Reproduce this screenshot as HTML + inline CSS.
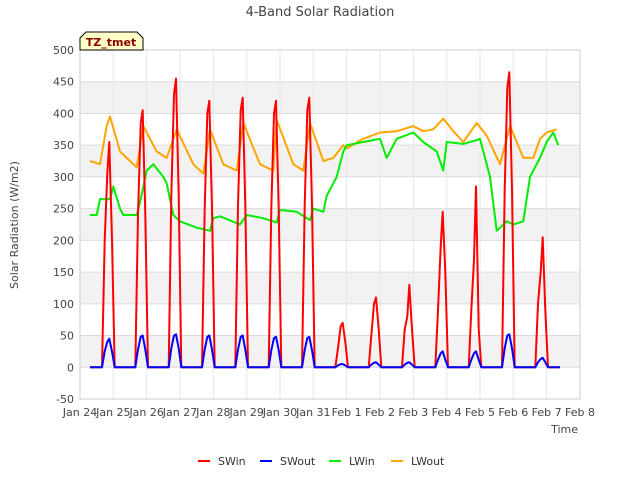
<!DOCTYPE html>
<html><head><meta charset="utf-8"><style>
body{margin:0;background:#fff;font-family:"Liberation Sans","DejaVu Sans",sans-serif;}
svg text{font-family:"DejaVu Sans","Liberation Sans",sans-serif;}
</style></head><body>
<svg id="chart" width="640" height="480" viewBox="0 0 640 480" xmlns="http://www.w3.org/2000/svg">
<text x="320" y="16" font-size="13" text-anchor="middle" fill="#444">4-Band Solar Radiation</text>
<g id="bands"></g>
<g id="grid"></g>
<g id="series"></g>
<g id="axes"></g>
<text transform="translate(18,225) rotate(-90)" font-size="11" text-anchor="middle" fill="#444">Solar Radiation (W/m2)</text>
<text x="578" y="433" font-size="11" text-anchor="end" fill="#444">Time</text>
<g>
<path d="M80,50 L80,38 L86,32 L137,32 L143,38 L143,50 Z" fill="#ffffc8" stroke="#000" stroke-width="1"/>
<text x="111" y="46" font-size="11" font-weight="bold" text-anchor="middle" fill="#8b0000">TZ_tmet</text>
</g>
<g id="legend"></g>
</svg>
<script>
const yTicks=[-50,0,50,100,150,200,250,300,350,400,450,500];
const xLabels=["Jan 24","Jan 25","Jan 26","Jan 27","Jan 28","Jan 29","Jan 30","Jan 31","Feb 1","Feb 2","Feb 3","Feb 4","Feb 5","Feb 6","Feb 7","Feb 8"];
const seriesNames=["SWin","SWout","LWin","LWout"];
const seriesColors=["#ff0000","#0000ff","#00ee00","#ffa500"];
const swTimes=[0.3,
0.66,0.74,0.82,0.88,0.96,1.04,
1.66,1.74,1.82,1.88,1.96,2.04,
2.66,2.74,2.82,2.88,2.96,3.04,
3.66,3.74,3.82,3.88,3.96,4.04,
4.66,4.74,4.82,4.88,4.96,5.04,
5.66,5.74,5.82,5.88,5.96,6.04,
6.66,6.74,6.82,6.88,6.96,7.04,
7.66,7.74,7.82,7.88,7.96,8.04,
8.66,8.74,8.82,8.88,8.96,9.04,
9.66,9.74,9.82,9.88,9.96,10.04,
10.66,10.74,10.82,10.88,10.96,11.04,
11.66,11.74,11.82,11.88,11.96,12.04,
12.66,12.74,12.82,12.88,12.96,13.04,
13.66,13.74,13.82,13.88,13.96,14.04,
14.4];
const swinValues=[0,
0,200,305,355,200,0,
0,240,385,405,240,0,
0,270,430,455,270,0,
0,250,400,420,250,0,
0,255,405,425,255,0,
0,250,400,420,250,0,
0,255,405,425,255,0,
0,30,65,70,40,0,
0,50,100,110,60,0,
0,60,80,130,60,0,
0,90,190,245,150,0,
0,90,170,285,60,0,
0,280,440,465,280,0,
0,100,150,205,90,0,
0];
const swoutValues=[0,
0,25,40,45,25,0,
0,28,48,50,28,0,
0,30,50,52,30,0,
0,28,48,50,28,0,
0,28,48,50,28,0,
0,27,46,48,27,0,
0,27,46,48,27,0,
0,3,5,5,3,0,
0,4,7,8,4,0,
0,4,7,8,4,0,
0,12,22,25,12,0,
0,12,22,25,12,0,
0,30,50,52,30,0,
0,8,13,15,8,0,
0];
const lwinTimes=[0.3,0.5,0.6,0.9,1.0,1.2,1.3,1.7,1.8,2.0,2.2,2.5,2.6,2.8,3.0,3.5,3.9,4.0,4.2,4.8,5.0,5.5,5.9,6.0,6.5,6.9,7.0,7.3,7.4,7.7,7.9,8.0,8.5,9.0,9.2,9.5,10.0,10.3,10.7,10.9,11.0,11.5,11.9,12.0,12.3,12.5,12.8,13.0,13.3,13.5,13.8,14.0,14.2,14.35];
const lwinValues=[240,240,265,265,285,250,240,240,260,310,320,300,290,240,230,220,215,235,238,225,240,235,228,248,245,232,250,245,270,300,340,350,355,360,330,360,370,355,340,310,355,352,358,360,300,215,230,225,230,300,330,355,370,350];
const lwoutTimes=[0.3,0.6,0.8,0.9,1.2,1.7,1.9,2.3,2.6,2.9,3.4,3.7,3.9,4.3,4.7,4.9,5.4,5.8,5.9,6.4,6.7,6.9,7.3,7.6,7.9,8.0,8.5,9.0,9.5,10.0,10.3,10.6,10.9,11.2,11.5,11.9,12.2,12.6,12.9,13.3,13.6,13.8,14.0,14.3];
const lwoutValues=[325,320,380,395,340,315,380,340,330,375,320,305,375,320,310,385,320,310,390,320,310,385,325,330,350,345,360,370,372,380,372,375,392,372,355,385,365,320,380,330,330,360,370,375];

const X0=80,X1=580,Y0=50,Y1=399,DAYS=15,YMIN=-50,YMAX=500;
const xs=t=>X0+(X1-X0)*t/DAYS;
const ys=v=>Y1-(Y1-Y0)*(v-YMIN)/(YMAX-YMIN);
const NS="http://www.w3.org/2000/svg";
function mk(tag,attrs,parent){const e=document.createElementNS(NS,tag);for(const k in attrs)e.setAttribute(k,attrs[k]);parent.appendChild(e);return e;}
const bands=document.getElementById('bands'),grid=document.getElementById('grid'),axes=document.getElementById('axes'),ser=document.getElementById('series'),leg=document.getElementById('legend');
for(let i=0;i+1<yTicks.length;i++){
  if(yTicks[i]>=0 && (yTicks[i]/50)%2===0){
    const r=mk('rect',{x:X0,y:ys(yTicks[i+1]),width:X1-X0,height:ys(yTicks[i])-ys(yTicks[i+1]),fill:'#f2f2f2'},bands);
    
    
  }
}
yTicks.forEach(v=>{
  const l=mk('line',{x1:X0,x2:X1,y1:ys(v),y2:ys(v),stroke:'#dcdcdc','stroke-width':1},grid);
  
  
  const t=mk('text',{x:X0-6,y:ys(v)+4,'font-size':11,'text-anchor':'end',fill:'#444'},axes);
  t.textContent=v;
  
  
});
xLabels.forEach((s,i)=>{
  const l=mk('line',{x1:xs(i),x2:xs(i),y1:Y0,y2:Y1,stroke:'#e6e6e6','stroke-width':1},grid);
  
  
  const t=mk('text',{x:xs(i),y:Y1+17,'font-size':11,'text-anchor':'middle',fill:'#444'},axes);
  t.textContent=s;
  
  
});
const fr=mk('rect',{x:X0,y:Y0,width:X1-X0,height:Y1-Y0,fill:'none',stroke:'#ccc'},axes);


const data=[[swTimes,swinValues],[swTimes,swoutValues],[lwinTimes,lwinValues],[lwoutTimes,lwoutValues]];
const order=[3,2,0,1];
order.forEach(i=>{
  const [ts,vs]=data[i];
  const pts=ts.map((t,k)=>xs(t).toFixed(1)+','+ys(vs[k]).toFixed(1)).join(' ');
  const p=mk('polyline',{points:pts,fill:'none',stroke:seriesColors[i],'stroke-width':2,'stroke-linejoin':'round'},ser);
  
  
});
const legX=[198,260,329,391];
seriesNames.forEach((n,i)=>{
  const g=mk('g',{},leg);
  
  
  mk('line',{x1:legX[i],x2:legX[i]+12,y1:461,y2:461,stroke:seriesColors[i],'stroke-width':2},g);
  const t=mk('text',{x:legX[i]+20,y:465,'font-size':11,fill:'#333'},g);
  t.textContent=n;
});
</script>
</body></html>
